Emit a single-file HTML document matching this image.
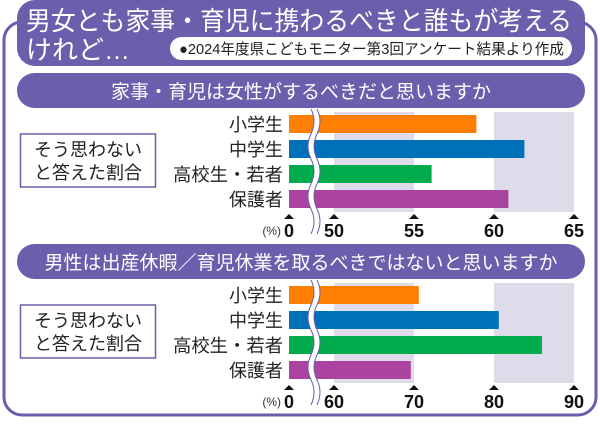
<!DOCTYPE html>
<html><head><meta charset="utf-8"><style>
body{margin:0;background:#fff;width:600px;height:419px;overflow:hidden;font-family:"Liberation Sans","Noto Sans CJK JP",sans-serif}
svg text{font-family:"Liberation Sans","Noto Sans CJK JP",sans-serif}
</style></head><body>
<svg id="c" width="600" height="419" viewBox="0 0 600 419" xmlns="http://www.w3.org/2000/svg">
<rect x="4" y="22" width="592" height="393" rx="18" fill="#fff" stroke="#6a5fad" stroke-width="3"/>
<rect x="17" y="0" width="568" height="66" rx="18" fill="#6a5fad"/>
<text x="26" y="30" font-size="26" fill="#fff" textLength="546" lengthAdjust="spacingAndGlyphs">男女とも家事・育児に携わるべきと誰もが考える</text>
<text x="26" y="59" font-size="26" fill="#fff">けれど…</text>
<rect x="170" y="37" width="402" height="23" rx="11.5" fill="#fff"/>
<text x="179" y="54" font-size="15" fill="#222" textLength="385" lengthAdjust="spacingAndGlyphs">●2024年度県こどもモニター第3回アンケート結果より作成</text>
<g id="p1"></g><g id="p2"></g>
</svg>
<script>
const categories = ["小学生","中学生","高校生・若者","保護者"];
const colors = ["#ff8000","#0070b8","#00ab4e","#ab43a0"];
const q1Title = "家事・育児は女性がするべきだと思いますか";
const q1Values = [58.9, 61.9, 56.1, 60.9];
const q1Ticks = [50, 55, 60, 65];
const q2Title = "男性は出産休暇／育児休業を取るべきではないと思いますか";
const q2Values = [70.6, 80.6, 86.0, 69.6];
const q2Ticks = [60, 70, 80, 90];
const NS="http://www.w3.org/2000/svg";
function mk(parent,tag,attrs){const e=document.createElementNS(NS,tag);for(const k in attrs)e.setAttribute(k,attrs[k]);parent.appendChild(e);return e;}
function panel(g,top,title,values,ticks,pfx){
  const lo=ticks[0],hi=ticks[ticks.length-1];
  const x=v=>334+(v-lo)*(574-334)/(hi-lo);
  const hdr=mk(g,'rect',{x:17,y:top,width:568,height:35,rx:17.5,fill:'#6a5fad'});
  
  
  const ht=mk(g,'text',{x:301,y:top+25,'font-size':19,fill:'#fff','text-anchor':'middle'});ht.textContent=title;
  
  
  const by=top+39;
  for(let i=0;i<ticks.length-1;i+=2){
    const b=mk(g,'rect',{x:x(ticks[i]),y:by,width:x(ticks[i+1])-x(ticks[i]),height:100,fill:'#dedbeb'});
    
    
  }
  const bx=mk(g,'rect',{x:20.5,y:top+61,width:135,height:53,fill:'#fff',stroke:'#6a5fad','stroke-width':1.5});
  
  
  const t1=mk(g,'text',{x:88,y:top+83,'font-size':18,'text-anchor':'middle',fill:'#222'});t1.textContent='そう思わない';
  
  
  const t2=mk(g,'text',{x:88,y:top+106,'font-size':18,'text-anchor':'middle',fill:'#222'});t2.textContent='と答えた割合';
  
  
  values.forEach((v,i)=>{
    const y=by+3+i*25;
    const r=mk(g,'rect',{x:289,y:y,width:x(v)-289,height:18,fill:colors[i]});
    
    
    const l=mk(g,'text',{x:283,y:y+16,'font-size':18,'text-anchor':'end',fill:'#222'});l.textContent=categories[i];
    if(categories[i].length>4){l.setAttribute('textLength','110');l.setAttribute('lengthAdjust','spacingAndGlyphs');}
    
    
  });
  const w=mk(g,'path',{d:`M314 ${by-3} q6 12 0 25 q-6 12 0 25 q6 12 0 25 q-6 12 0 25 q6 12 0 25`,fill:'none',stroke:'#fff','stroke-width':6});
  
  
  mk(g,'path',{d:`M311 ${by-3} q6 12 0 25 q-6 12 0 25 q6 12 0 25 q-6 12 0 25 q6 12 0 25 M317 ${by-3} q6 12 0 25 q-6 12 0 25 q6 12 0 25 q-6 12 0 25 q6 12 0 25`,fill:'none',stroke:'#6a5fad','stroke-width':1});
  const tickVals=[0].concat(ticks);
  tickVals.forEach((t,i)=>{
    const tx=i===0?289:x(t);
    const a=mk(g,'path',{d:`M${tx-5} ${by+107} L${tx} ${by+102} L${tx+5} ${by+107} Z`,fill:'#111'});
    
    
    const tl=mk(g,'text',{x:tx,y:by+125,'font-size':18,'text-anchor':'middle',fill:'#111','font-weight':'bold'});tl.textContent=t;
    
    
  });
  const u=mk(g,'text',{x:281,y:by+123,'font-size':12,'text-anchor':'end',fill:'#333'});u.textContent='(%)';
  
  
}
panel(document.getElementById('p1'),73,q1Title,q1Values,q1Ticks,'q1');
panel(document.getElementById('p2'),244,q2Title,q2Values,q2Ticks,'q2');
</script>
</body></html>
